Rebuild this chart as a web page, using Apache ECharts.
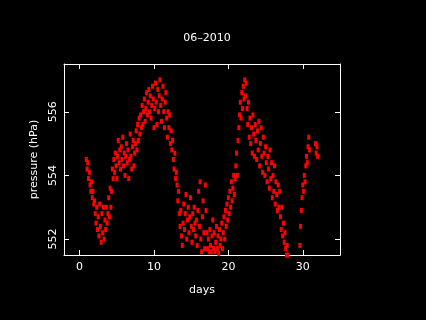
<!DOCTYPE html>
<html>
<head>
<meta charset="utf-8">
<script src="https://cdn.jsdelivr.net/npm/echarts@6/dist/echarts.min.js"></script>
<style>
  html, body { margin: 0; padding: 0; background: #000; }
  #chart { width: 426px; height: 320px; }
</style>
</head>
<body>
<div id="chart"></div>
<script>
// sample times (days of month)
const days = [
  0.9,
  1.0, 1.1, 1.2, 1.3, 1.4, 1.5, 1.6, 1.7, 1.8, 1.9,
  2.0, 2.1, 2.2, 2.3, 2.4, 2.5, 2.6, 2.7, 2.8, 2.9,
  3.0, 3.1, 3.2, 3.3, 3.4, 3.5, 3.6, 3.7, 3.8, 3.9,
  4.0, 4.1, 4.2, 4.3, 4.4, 4.5, 4.6, 4.7, 4.8, 4.9,
  5.0, 5.1, 5.2, 5.3, 5.4, 5.5, 5.6, 5.7, 5.8, 5.9,
  6.0, 6.1, 6.2, 6.3, 6.4, 6.5, 6.6, 6.7, 6.8, 6.9,
  7.0, 7.1, 7.2, 7.3, 7.4, 7.5, 7.6, 7.7, 7.8, 7.9,
  8.0, 8.1, 8.2, 8.3, 8.4, 8.5, 8.6, 8.7, 8.8, 8.9,
  9.0, 9.1, 9.2, 9.3, 9.4, 9.5, 9.6, 9.7, 9.8, 9.9,
  10.0, 10.1, 10.2, 10.3, 10.4, 10.5, 10.6, 10.7, 10.8, 10.9,
  11.0, 11.1, 11.2, 11.3, 11.4, 11.5, 11.6, 11.7, 11.8, 11.9,
  12.0, 12.1, 12.2, 12.3, 12.4, 12.5, 12.6, 12.7, 12.8, 12.9,
  13.0, 13.1, 13.2, 13.3, 13.4, 13.5, 13.6, 13.7, 13.8, 13.9,
  14.0, 14.1, 14.2, 14.3, 14.4, 14.5, 14.6, 14.7, 14.8, 14.9,
  15.0, 15.1, 15.2, 15.3, 15.4, 15.5, 15.6, 15.7, 15.8, 15.9,
  16.0, 16.1, 16.2, 16.3, 16.4, 16.5, 16.6, 16.7, 16.8, 16.9,
  17.0, 17.1, 17.2, 17.3, 17.4, 17.5, 17.6, 17.7, 17.8, 17.9,
  18.0, 18.1, 18.2, 18.3, 18.4, 18.5, 18.6, 18.7, 18.8, 18.9,
  19.0, 19.1, 19.2, 19.3, 19.4, 19.5, 19.6, 19.7, 19.8, 19.9,
  20.0, 20.1, 20.2, 20.3, 20.4, 20.5, 20.6, 20.7, 20.8, 20.9,
  21.0, 21.1, 21.2, 21.3, 21.4, 21.5, 21.6, 21.7, 21.8, 21.9,
  22.0, 22.1, 22.2, 22.3, 22.4, 22.5, 22.6, 22.7, 22.8, 22.9,
  23.0, 23.1, 23.2, 23.3, 23.4, 23.5, 23.6, 23.7, 23.8, 23.9,
  24.0, 24.1, 24.2, 24.3, 24.4, 24.5, 24.6, 24.7, 24.8, 24.9,
  25.0, 25.1, 25.2, 25.3, 25.4, 25.5, 25.6, 25.7, 25.8, 25.9,
  26.0, 26.1, 26.2, 26.3, 26.4, 26.5, 26.6, 26.7, 26.8, 26.9,
  27.0, 27.1, 27.2, 27.3, 27.4, 27.5, 27.6, 27.7, 27.8, 27.9,
  28.0,
  29.6, 29.7, 29.8, 29.9,
  30.0, 30.1, 30.2, 30.3, 30.4, 30.5, 30.6, 30.7, 30.8, 30.9,
  31.7, 31.8, 31.9, 32.0
]

// pressure readings (hPa), same order as days
const pressure = [
  554.5,
  554.2, 554.4, 553.9, 554.1, 553.7, 553.5, 553.8, 553.3, 553.5, 553.1,
  553.2, 552.8, 552.5, 553.0, 552.3, 552.7, 552.1, 553.1, 552.4, 551.9,
  552.8, 552.2, 553.0, 552.0, 552.6, 552.3, 553.0, 552.5, 552.8, 553.3,
  552.7, 553.6, 553.0, 553.5, 554.2, 553.9, 554.5, 554.1, 554.7, 554.3,
  553.9, 554.6, 555.1, 554.4, 554.8, 554.2, 554.9, 554.5, 555.2, 554.3,
  554.7, 554.0, 554.6, 555.0, 554.4, 554.8, 553.9, 554.5, 555.3, 554.6,
  554.2, 554.9, 555.1, 554.3, 554.7, 555.0, 555.4, 554.8, 555.6, 555.1,
  555.8, 555.3, 555.9, 555.5, 556.2, 555.6, 556.0, 556.4, 555.7, 556.1,
  556.6, 555.9, 556.3, 556.7, 556.0, 556.5, 555.8, 556.2, 556.8, 556.4,
  555.5, 556.1, 556.9, 556.3, 555.6, 556.7, 556.0, 556.5, 557.0, 556.2,
  555.7, 556.4, 556.8, 556.0, 555.5, 556.3, 556.6, 555.8, 555.2, 556.0,
  555.5, 555.9, 555.0, 555.4, 554.8, 555.1, 554.5, 554.2, 554.7, 553.9,
  554.1, 553.7, 553.2, 553.5, 552.8, 552.4, 552.9, 552.1, 551.8, 552.5,
  553.1, 552.3, 552.8, 553.4, 552.0, 552.6, 553.0, 552.2, 552.7, 553.3,
  552.4, 551.9, 552.8, 552.3, 553.0, 552.5, 552.1, 552.6, 551.8, 552.9,
  553.5, 552.4, 553.8, 552.0, 551.6, 552.7, 553.2, 552.2, 551.7, 553.7,
  552.9, 552.2, 551.7, 552.0, 551.6, 552.3, 551.8, 551.6, 552.1, 552.6,
  551.7, 552.2, 551.6, 551.9, 552.4, 551.7, 552.1, 551.55, 552.3, 551.8,
  552.0, 552.5, 551.7, 552.2, 552.7, 552.0, 552.9, 552.4, 553.1, 552.6,
  553.3, 552.8, 553.5, 553.0, 553.8, 553.2, 553.6, 554.0, 553.4, 553.9,
  554.3, 554.7, 554.0, 555.1, 555.5, 555.9, 556.3, 555.8, 556.6, 556.1,
  556.8, 556.4, 557.0, 556.5, 556.9, 556.1, 555.6, 556.3, 555.2, 555.8,
  555.0, 555.5, 554.7, 555.9, 555.3, 554.6, 555.6, 555.1, 554.5, 555.4,
  554.8, 555.7, 554.3, 555.0, 555.5, 554.6, 554.1, 555.2, 554.7, 554.0,
  554.9, 554.4, 553.8, 554.6, 554.2, 553.6, 554.8, 553.9, 554.4, 553.3,
  554.0, 553.5, 554.3, 553.1, 553.8, 553.4, 552.9, 553.7, 553.0, 553.5,
  552.7, 552.3, 553.0, 552.1, 552.5, 551.9, 552.2, 551.7, 551.5, 551.8,
  551.5,
  551.8, 552.4, 552.9, 553.3,
  553.7, 553.5, 554.0, 553.8, 554.3, 554.6, 554.4, 554.9, 555.2, 554.8,
  555.0, 554.7, 554.9, 554.6
]

const xTicks = [0, 10, 20, 30]
const yTicks = [552, 554, 556]

const chart = echarts.init(document.getElementById('chart'))

const font = 'DejaVu Sans'
const axisBase = {
  axisLine: { show: true, onZero: false, lineStyle: { color: '#fff', width: 1 } },
  axisTick: { show: true, inside: true, length: 5, lineStyle: { color: '#fff' } },
  splitLine: { show: false }
}

const points = days.map((d, i) => [d, pressure[i]])

const option = {
  backgroundColor: '#000',
  animation: false,
  title: {
    text: '06–2010',
    left: 202,
    top: 28,
    textAlign: 'center',
    textStyle: { color: '#fff', fontSize: 11, fontWeight: 'normal', fontFamily: font }
  },
  grid: { left: 64, top: 64, width: 276, height: 191 },
  xAxis: [
    {
      ...axisBase,
      type: 'value',
      position: 'bottom',
      min: -2.1,
      max: 35,
      axisTick: { ...axisBase.axisTick, customValues: xTicks },
      axisLabel: { customValues: xTicks, color: '#fff', fontSize: 11, fontFamily: font, margin: 7 },
      name: 'days',
      nameLocation: 'middle',
      nameGap: 30,
      nameTextStyle: { color: '#fff', fontSize: 11, fontFamily: font, verticalAlign: 'top' }
    },
    {
      ...axisBase,
      type: 'value',
      position: 'top',
      min: -2.1,
      max: 35,
      axisTick: { ...axisBase.axisTick, customValues: xTicks },
      axisLabel: { show: false }
    }
  ],
  yAxis: [
    {
      ...axisBase,
      type: 'value',
      position: 'left',
      min: 551.5,
      max: 557.5,
      axisTick: { ...axisBase.axisTick, customValues: yTicks },
      axisLabel: { customValues: yTicks, rotate: 90, color: '#fff', fontSize: 11, fontFamily: font, margin: 5 },
      name: 'pressure (hPa)',
      nameLocation: 'middle',
      nameGap: 16,
      nameTextStyle: { color: '#fff', fontSize: 11, fontFamily: font }
    },
    {
      ...axisBase,
      type: 'value',
      position: 'right',
      min: 551.5,
      max: 557.5,
      axisTick: { ...axisBase.axisTick, customValues: yTicks },
      axisLabel: { show: false }
    }
  ],
  series: [
    {
      type: 'scatter',
      data: points,
      symbol: 'rect',
      symbolSize: [3, 5],
      itemStyle: { color: '#ff0000', opacity: 1 }
    }
  ]
}

chart.setOption(option)
</script>
</body>
</html>
